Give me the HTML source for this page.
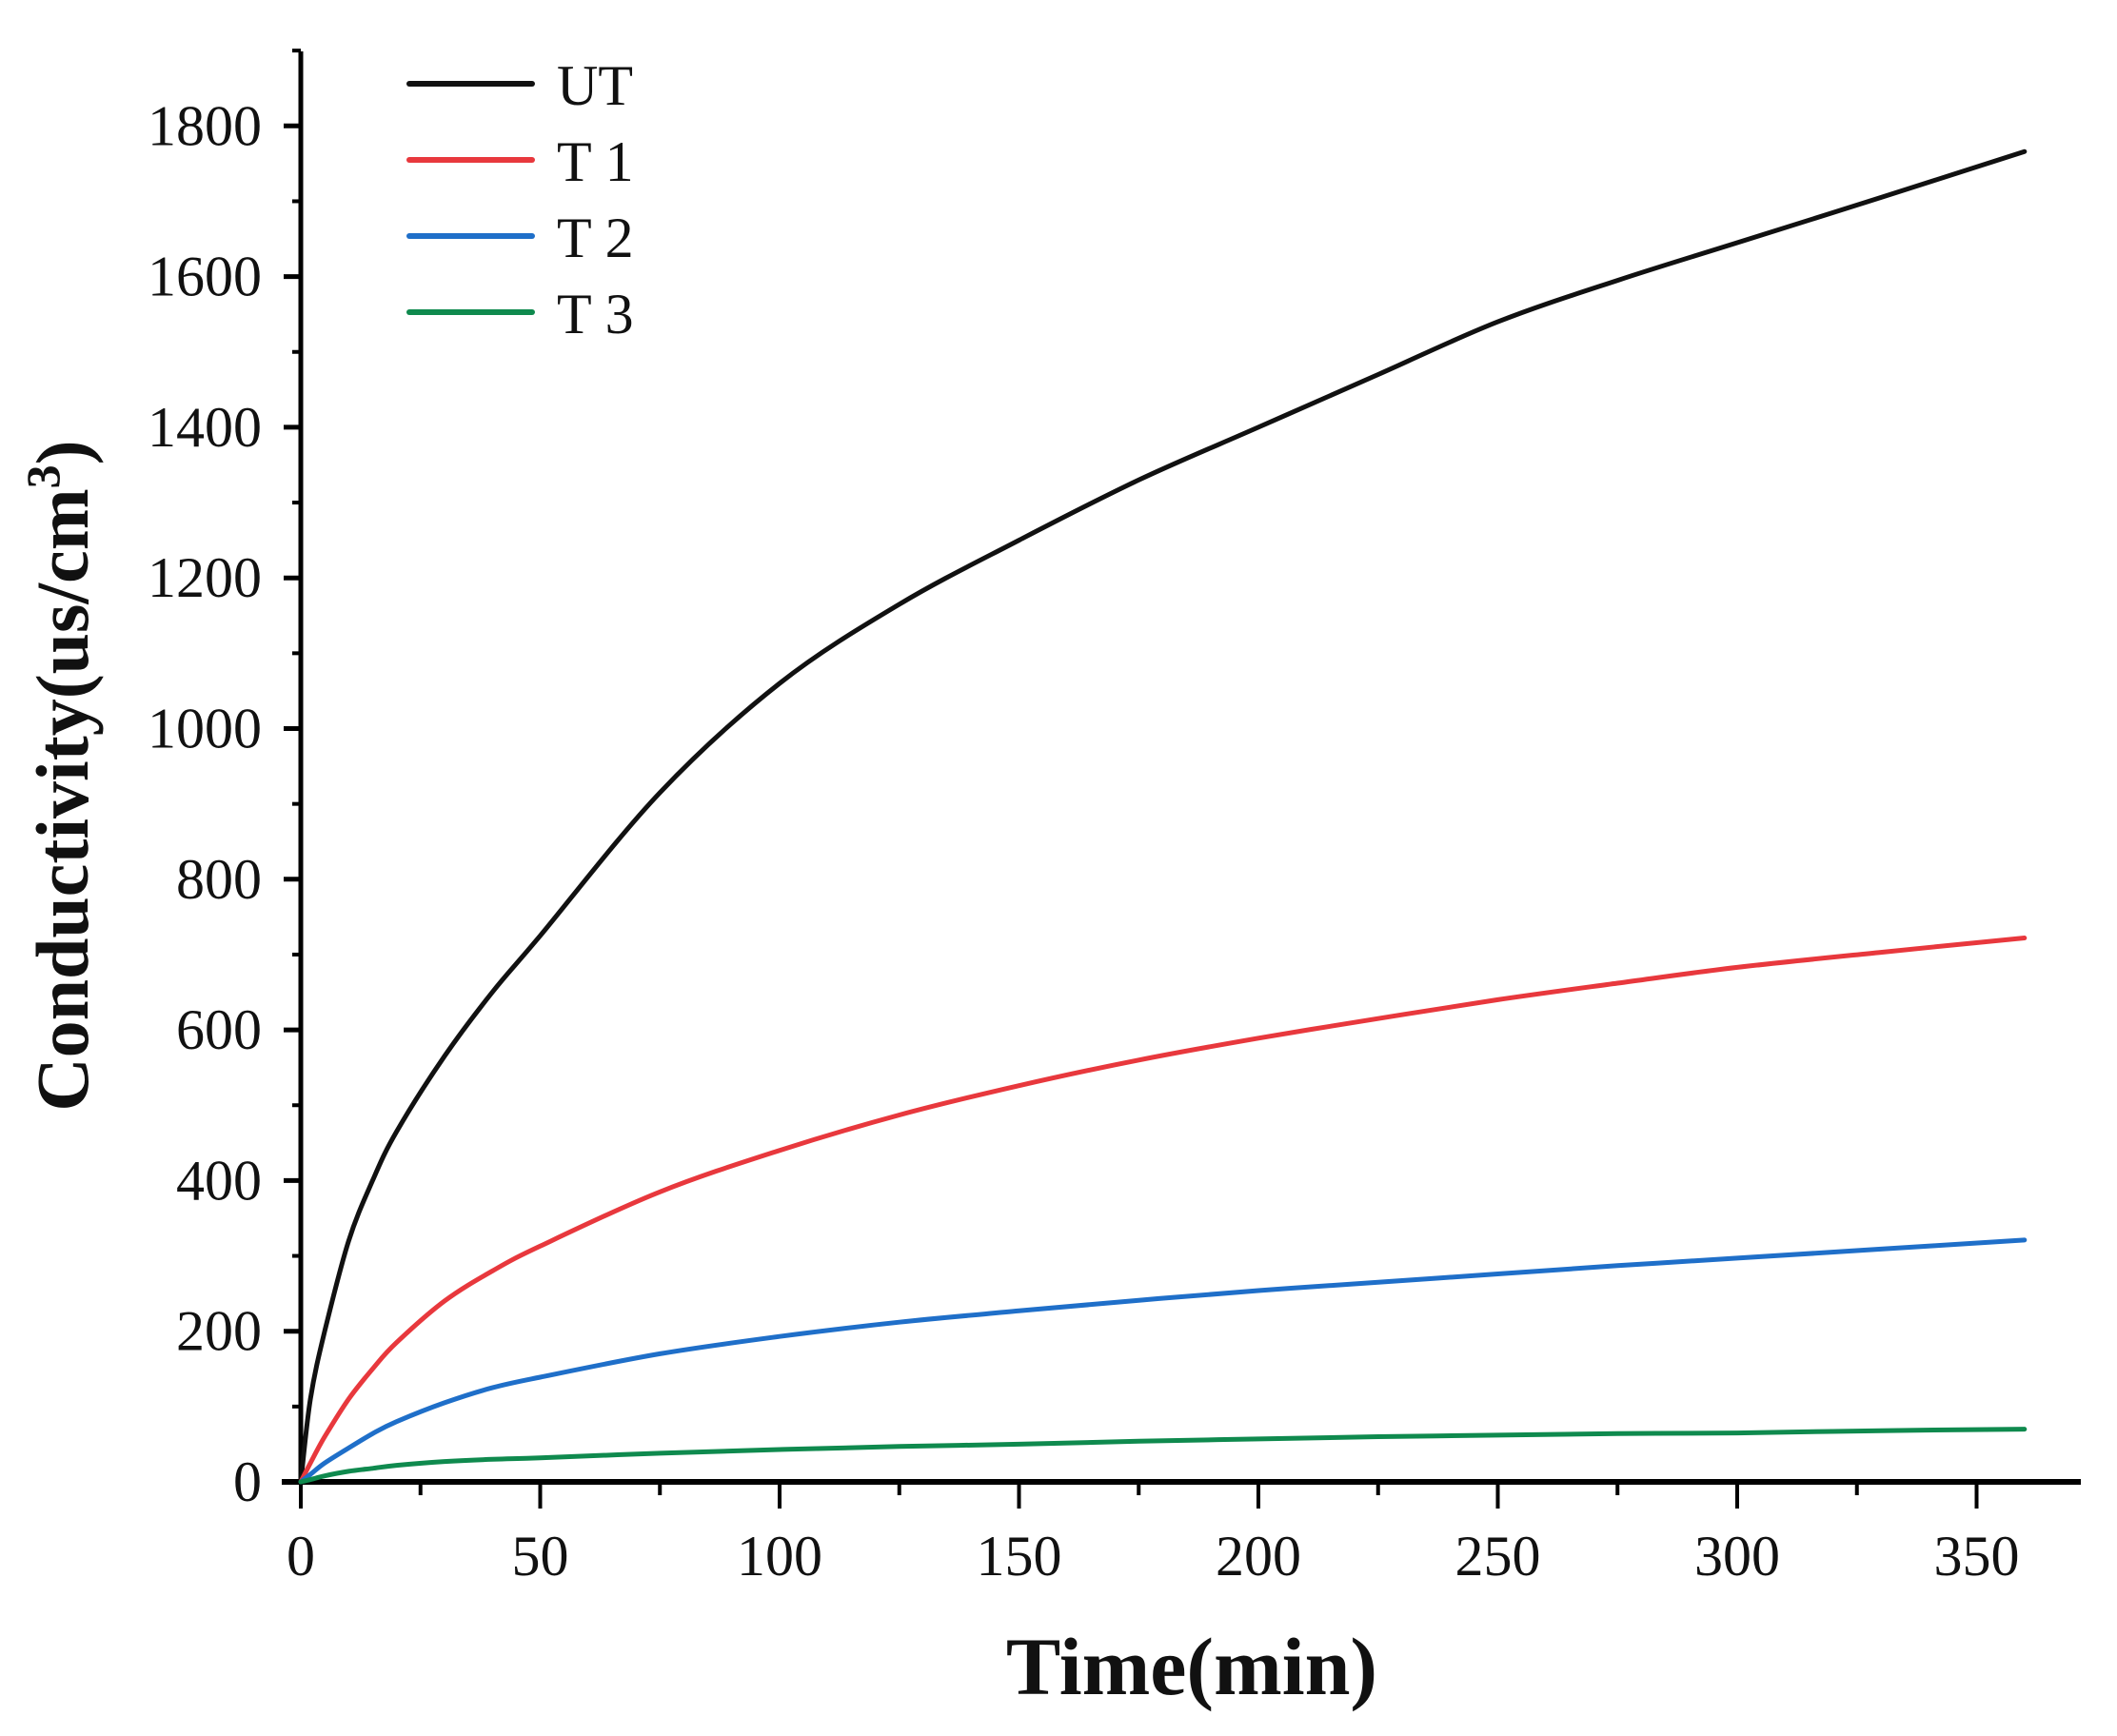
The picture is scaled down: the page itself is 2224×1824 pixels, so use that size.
<!DOCTYPE html>
<html><head><meta charset="utf-8"><style>
html,body{margin:0;padding:0;background:#fff;}
svg{display:block;}
text{font-family:"Liberation Serif",serif;fill:#111;}
</style></head><body>
<svg id="chart" width="2224" height="1824" viewBox="0 0 2224 1824" xmlns="http://www.w3.org/2000/svg">
<g id="axes"></g>
<g id="series"></g>
<g id="legend"></g>
<text x="1252" y="1780" font-size="86" font-weight="bold" text-anchor="middle">Time(min)</text>
<text transform="translate(92,815) rotate(-90)" font-size="78" font-weight="bold" text-anchor="middle">Conductivity(us/cm<tspan dy="-30" font-size="50">3</tspan><tspan dy="30">)</tspan></text>
</svg>
<script>
const xTicks=[0,50,100,150,200,250,300,350];
const yTicks=[0,200,400,600,800,1000,1200,1400,1600,1800];
const times=[0,2,5,10,15,20,30,40,50,75,100,125,150,175,200,225,250,275,300,330,360];
const utValues=[0,110,200,320,400,465,565,650,725,915,1060,1165,1250,1330,1400,1470,1540,1595,1645,1705,1766];
const t1Values=[0,25,60,110,150,185,240,280,313,385,440,487,526,560,589,615,640,662,683,703,722];
const t2Values=[0,10,25,45,64,80,105,125,139,170,193,212,227,241,254,265,276,287,297,309,321];
const t3Values=[0,3,8,14,18,22,27,30,32,38,43,47,50,54,57,60,62,64,65,68,70];
const seriesNames=["UT","T 1","T 2","T 3"];
const seriesColors=["#111111","#e8383d","#1f6fc9","#0f8a4e"];
const allSeries=[utValues,t1Values,t2Values,t3Values];

const X0=316,PX_PER_MIN=251.5/50,Y0=1557,PX_PER_UNIT=158.3/200;
function xs(v){return X0+v*PX_PER_MIN;}
function ys(v){return Y0-v*PX_PER_UNIT;}
const NS="http://www.w3.org/2000/svg";
function mk(tag,attrs,parent){const e=document.createElementNS(NS,tag);for(const k in attrs)e.setAttribute(k,attrs[k]);parent.appendChild(e);return e;}
const axes=document.getElementById('axes');
let l=mk('line',{x1:X0,y1:54,x2:X0,y2:Y0+3,stroke:'#000','stroke-width':5},axes);


l=mk('line',{x1:296,y1:Y0,x2:2186,y2:Y0,stroke:'#000','stroke-width':6},axes);


xTicks.forEach((v,i)=>{
  const t=mk('line',{x1:xs(v),y1:Y0,x2:xs(v),y2:Y0+28,stroke:'#000','stroke-width':4},axes);
  
  
  if(i<xTicks.length-1){
    const m=mk('line',{x1:xs(v+25),y1:Y0,x2:xs(v+25),y2:Y0+14,stroke:'#000','stroke-width':4},axes);
    
    
  }
  const tx=mk('text',{x:xs(v),y:1655,'font-size':60,'text-anchor':'middle'},axes);
  tx.textContent=v;
  
  
});
yTicks.forEach(v=>{
  const t=mk('line',{x1:X0-18,y1:ys(v),x2:X0,y2:ys(v),stroke:'#000','stroke-width':5},axes);
  
  
  const m=mk('line',{x1:X0-9,y1:ys(v+100),x2:X0,y2:ys(v+100),stroke:'#000','stroke-width':4},axes);
  
  
  const tx=mk('text',{x:275,y:ys(v)+20,'font-size':60,'text-anchor':'end'},axes);
  tx.textContent=v;
  
  
});
function smoothPath(p){
  let d='M'+p[0][0].toFixed(1)+','+p[0][1].toFixed(1);
  for(let i=0;i<p.length-1;i++){
    const p0=p[Math.max(0,i-1)],p1=p[i],p2=p[i+1],p3=p[Math.min(p.length-1,i+2)];
    const c1x=p1[0]+(p2[0]-p0[0])/6,c1y=p1[1]+(p2[1]-p0[1])/6;
    const c2x=p2[0]-(p3[0]-p1[0])/6,c2y=p2[1]-(p3[1]-p1[1])/6;
    d+=' C'+c1x.toFixed(1)+','+c1y.toFixed(1)+' '+c2x.toFixed(1)+','+c2y.toFixed(1)+' '+p2[0].toFixed(1)+','+p2[1].toFixed(1);
  }
  return d;
}
const sg=document.getElementById('series');
allSeries.forEach((vals,i)=>{
  const pts=times.map((t,j)=>[xs(t),ys(vals[j])]);
  const p=mk('path',{d:smoothPath(pts),fill:'none',stroke:seriesColors[i],'stroke-width':5,'stroke-linejoin':'round','stroke-linecap':'round'},sg);
  
  
});
const lg=document.getElementById('legend');
seriesNames.forEach((n,i)=>{
  const y=88+i*80;
  const ln=mk('line',{x1:430,y1:y,x2:559,y2:y,stroke:seriesColors[i],'stroke-width':6,'stroke-linecap':'round'},lg);
  
  
  const tx=mk('text',{x:585,y:y+22,'font-size':60},lg);
  tx.textContent=n;
  
  
});
</script>
</body></html>
